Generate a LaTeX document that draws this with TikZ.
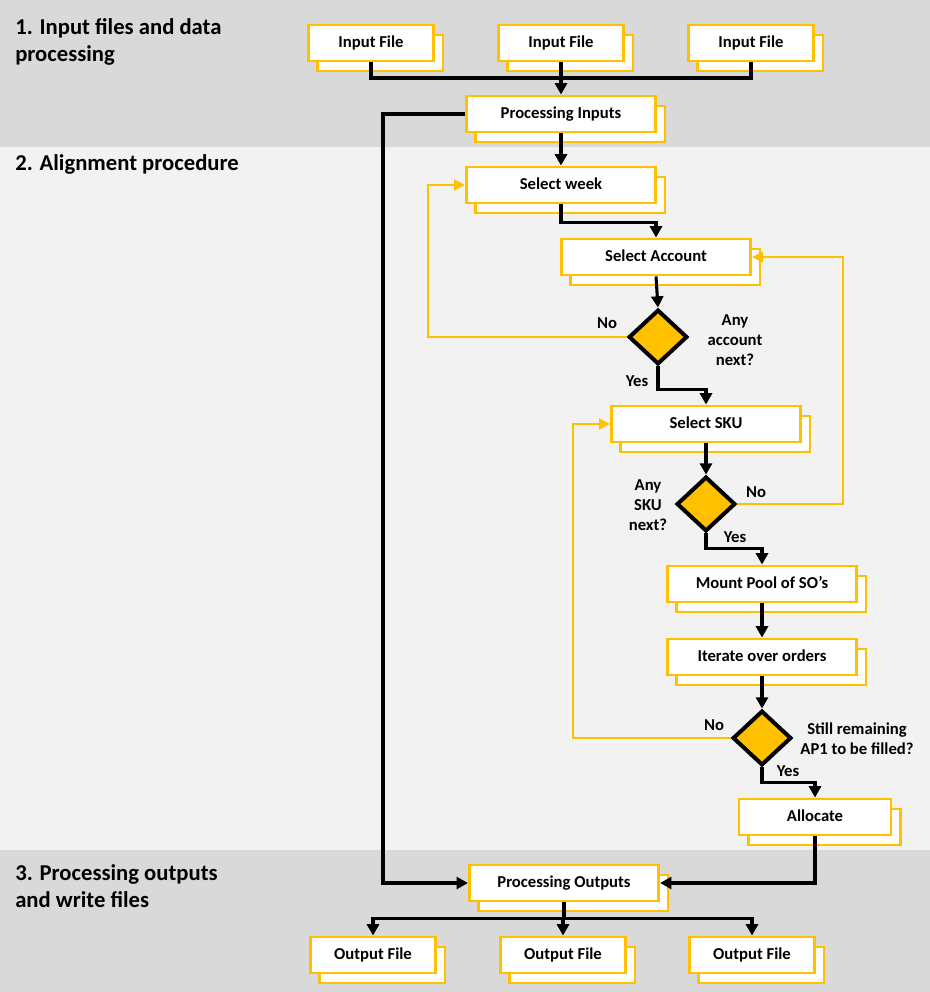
\documentclass[tikz,border=0pt]{standalone}
\usepackage{fontspec}
\setmainfont{Carlito}
\usetikzlibrary{positioning,arrows.meta,shapes.geometric,shadows}

\definecolor{ylw}{HTML}{FFC000}
\definecolor{bandgray}{HTML}{D9D9D9}
\definecolor{bandlight}{HTML}{F2F2F2}

\begin{document}
\begin{tikzpicture}[x=0.75pt,y=-0.75pt,
	font=\fontsize{12.5}{15}\selectfont\bfseries,
	stepbox/.style={draw=ylw,fill=white,line width=2.2pt,minimum width=142pt,minimum height=27pt,
		text height=0.9em,text depth=0.2em,copy shadow={shadow xshift=7pt,shadow yshift=-7.5pt}},
	filebox/.style={stepbox,minimum width=94pt},
	decision/.style={diamond,draw=black,fill=ylw,line width=3pt,minimum width=44pt,minimum height=41pt,inner sep=0pt},
	trunk/.style={black,line width=2.3pt},
	flow/.style={trunk,-{Triangle[length=8.5pt,width=9pt]}},
	loopback/.style={ylw,line width=1.8pt,-{Triangle[length=8pt,width=8pt]}},
	phase/.style={anchor=north west,align=left,inner sep=0pt,font=\fontsize{17}{20.5}\selectfont\bfseries}
	]
	\useasboundingbox (0,0) rectangle (930,992);
	
	% bands of the three phases
	\fill[bandgray] (0,0) rectangle (930,147);
	\fill[bandlight] (0,147) rectangle (930,850);
	\fill[bandgray] (0,850) rectangle (930,992);
	
	\node[phase] (phase1) at (15,18) {1. Input files and data\\processing};
	\node[phase] (phase2) at (15,154) {2. Alignment procedure};
	\node[phase] (phase3) at (15,864) {3. Processing outputs\\and write files};
	
	% phase 1
	\node[filebox] (in1) at (371,43) {Input File};
	\node[filebox] (in2) at (561,43) {Input File};
	\node[filebox] (in3) at (751,43) {Input File};
	\node[stepbox] (procin) at (561,114) {Processing Inputs};
	
	% phase 2
	\node[stepbox] (week) at (561,185) {Select week};
	\node[stepbox] (account) at (656,257) {Select Account};
	\node[decision] (d1) at (658,337) {};
	\node[align=center] (q1) at (735,340) {Any\\account\\next?};
	\node[stepbox] (sku) at (706,424) {Select SKU};
	\node[decision] (d2) at (706,504) {};
	\node[align=center] (q2) at (648,505) {Any\\SKU\\next?};
	\node[stepbox] (pool) at (762,584) {Mount Pool of SO’s};
	\node[stepbox] (iter) at (762,657) {Iterate over orders};
	\node[decision] (d3) at (762,738) {};
	\node[align=center] (q3) at (857,739) {Still remaining\\AP1 to be filled?};
	\node[stepbox,minimum width=114pt] (alloc) at (815,817) {Allocate};
	
	% phase 3
	\node[stepbox] (procout) at (564,883) {Processing Outputs};
	\node[filebox] (out1) at (373,955) {Output File};
	\node[filebox] (out2) at (563,955) {Output File};
	\node[filebox] (out3) at (752,955) {Output File};
	
	% answers
	\node (no1) at (607,323) {No};
	\node (yes1) at (637,381) {Yes};
	\node (no2) at (756,492) {No};
	\node (yes2) at (735,537) {Yes};
	\node (no3) at (714,725) {No};
	\node (yes3) at (788,771) {Yes};
	
	% connectors
	\coordinate (injoin) at (561,78);
	\coordinate (bypass) at (383,500);
	\foreach \i in {in1,in3} \draw[trunk] (\i.south) |- (injoin);
	\draw[flow] (in2.south) -- (procin.north);
	\draw[flow] (procin.west) -| (bypass) |- (procout.west);
	\draw[flow] (procin.south) -- (week.north);
	\draw[flow] (week.south) -- ++(0,18) -| (account.north);
	\draw[flow] (account.south) -- (d1.north);
	\draw[flow] (d1.south) -- ++(0,23) -| (sku.north);
	\draw[flow] (sku.south) -- (d2.north);
	\draw[flow] (d2.south) -- ++(0,15) -| (pool.north);
	\draw[flow] (pool.south) -- (iter.north);
	\draw[flow] (iter.south) -- (d3.north);
	\draw[flow] (d3.south) -- ++(0,15) -| (alloc.north);
	\draw[flow] (alloc.south) |- (procout.east);
	\foreach \o in {out1,out2,out3} \draw[flow] (procout.south) -- ++(0,16) -| (\o.north);
	
	% loops back
	\draw[loopback] (d1.west) -| (428,260) |- (week.west);
	\draw[loopback] (d2.east) -| (843,400) |- (account.east);
	\draw[loopback] (d3.west) -| (573,600) |- (sku.west);
\end{tikzpicture}
\end{document}
